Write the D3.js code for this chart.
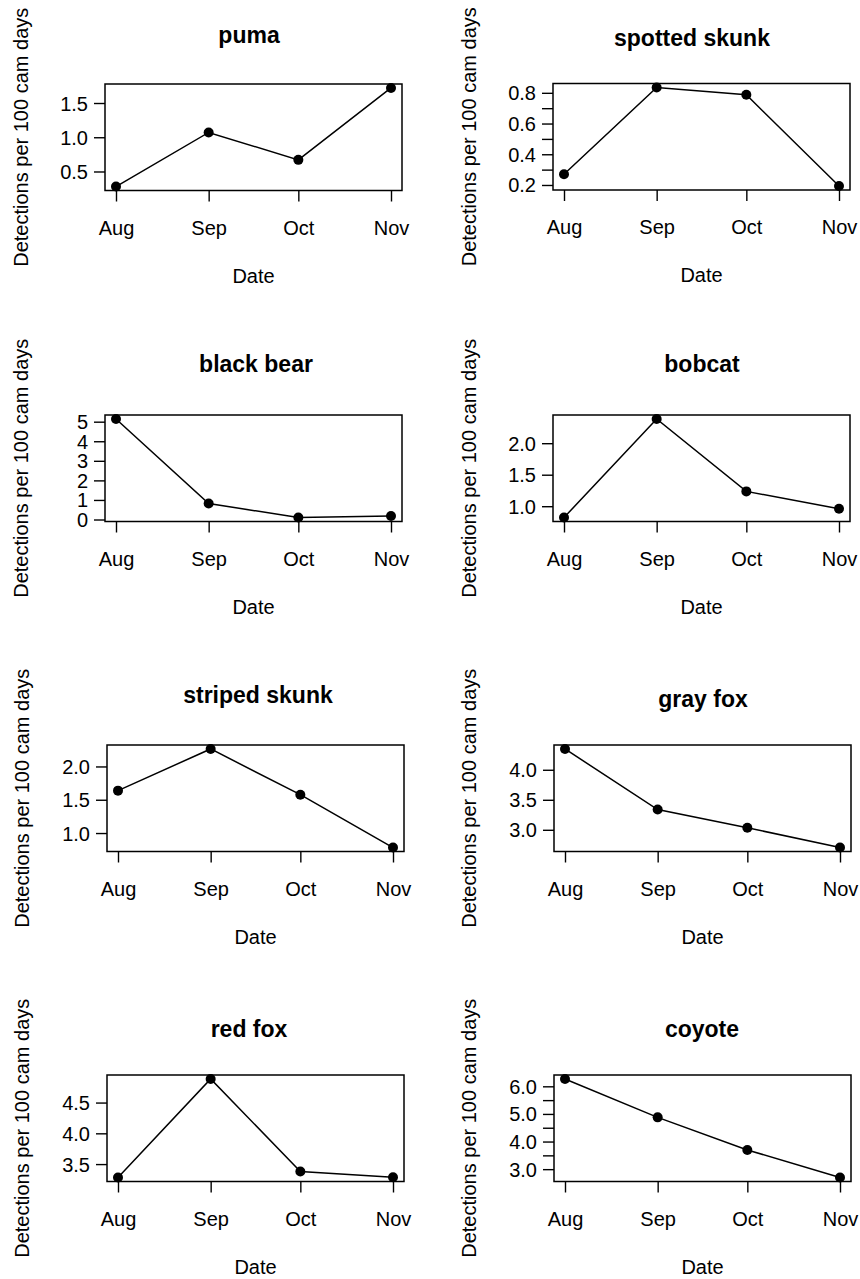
<!DOCTYPE html>
<html>
<head>
<meta charset="utf-8">
<script src="https://cdn.jsdelivr.net/npm/d3@7"></script>
<style>
  html, body { margin: 0; padding: 0; background: #fff; }
  svg { display: block; }
  text { font-family: "Liberation Sans", Arial, Helvetica, sans-serif; fill: #000; }
</style>
</head>
<body>
<svg id="chart" width="860" height="1279"></svg>
<script>
// Monthly detection rates (detections per 100 camera days), Aug–Nov
const months = ["Aug", "Sep", "Oct", "Nov"];
const monthStarts = ["2023-08-01", "2023-09-01", "2023-10-01", "2023-11-01"];

const species = ["puma", "spotted skunk", "black bear", "bobcat",
                 "striped skunk", "gray fox", "red fox", "coyote"];

const puma         = [0.28, 1.07, 0.67, 1.72];
const spottedSkunk = [0.27, 0.835, 0.787, 0.193];
const blackBear    = [5.14, 0.82, 0.10, 0.18];
const bobcat       = [0.82, 2.385, 1.235, 0.96];
const stripedSkunk = [1.637, 2.263, 1.576, 0.782];
const grayFox      = [4.347, 3.337, 3.034, 2.704];
const redFox       = [3.281, 4.884, 3.38, 3.286];
const coyote       = [6.267, 4.876, 3.696, 2.696];

// y-axis tick positions and their printed labels ("" = tick without label)
const pumaTicks   = [0.5, 1.0, 1.5];
const pumaLabels  = ["0.5", "1.0", "1.5"];
const spottedTicks  = [0.2, 0.3, 0.4, 0.5, 0.6, 0.7, 0.8];
const spottedLabels = ["0.2", "", "0.4", "", "0.6", "", "0.8"];
const bearTicks   = [0, 1, 2, 3, 4, 5];
const bearLabels  = ["0", "1", "2", "3", "4", "5"];
const bobcatTicks  = [1.0, 1.5, 2.0];
const bobcatLabels = ["1.0", "1.5", "2.0"];
const stripedTicks  = [1.0, 1.5, 2.0];
const stripedLabels = ["1.0", "1.5", "2.0"];
const grayTicks   = [3.0, 3.5, 4.0];
const grayLabels  = ["3.0", "3.5", "4.0"];
const redTicks    = [3.5, 4.0, 4.5];
const redLabels   = ["3.5", "4.0", "4.5"];
const coyoteTicks  = [3.0, 3.5, 4.0, 4.5, 5.0, 5.5, 6.0];
const coyoteLabels = ["3.0", "", "4.0", "", "5.0", "", "6.0"];

const seriesValues = [puma, spottedSkunk, blackBear, bobcat, stripedSkunk, grayFox, redFox, coyote];
const seriesTicks  = [pumaTicks, spottedTicks, bearTicks, bobcatTicks, stripedTicks, grayTicks, redTicks, coyoteTicks];
const seriesLabels = [pumaLabels, spottedLabels, bearLabels, bobcatLabels, stripedLabels, grayLabels, redLabels, coyoteLabels];

const xLabel = "Date";
const yLabel = "Detections per 100 cam days";

// ---- panel layout (4 rows x 2 columns) ----
const panelLeft  = [105, 553, 105, 553, 107, 554, 107, 554];
const panelTop   = [84, 83.5, 415, 415, 745, 745, 1075, 1075];
const panelW = 297;
const panelH = 106.5;
const titlePos = [[249, 43], [692, 46], [256, 372], [702, 372],
                  [258, 703], [703, 707], [249, 1037], [702, 1037]];
const yTitleX = [27.5, 475.5, 27.5, 475.5, 29, 476, 29, 476];
const tickLen = 11;

const parseDate = d3.timeParse("%Y-%m-%d");
const dates = monthStarts.map(parseDate);

const svg = d3.select("#chart");

// R-style 4% padding on each side of the data range
function padded(ext) {
  const pad = (ext[1] - ext[0]) * 0.04;
  return [ext[0] - pad, ext[1] + pad];
}

const dateExt = d3.extent(dates).map(d => +d);
const xDomain = padded(dateExt).map(t => new Date(t));

species.forEach((name, i) => {
  const left = panelLeft[i], top = panelTop[i];
  const vals = seriesValues[i];

  const x = d3.scaleTime().domain(xDomain).range([left, left + panelW]);
  const y = d3.scaleLinear().domain(padded(d3.extent(vals))).range([top + panelH, top]);

  const g = svg.append("g").attr("class", "panel");

  // x axis: ticks at month starts, labels below
  const xAxis = d3.axisBottom(x)
    .tickValues(dates)
    .tickFormat((d, k) => months[k])
    .tickSize(tickLen)
    .tickPadding(15);
  const gx = g.append("g")
    .attr("transform", `translate(0,${top + panelH})`)
    .call(xAxis);
  gx.select(".domain").remove();
  gx.selectAll(".tick line").attr("stroke", "#000").attr("stroke-width", 1.4);
  gx.selectAll(".tick text")
    .attr("font-size", 20)
    .attr("dy", null)
    .attr("y", 44)
    .style("font-family", '"Liberation Sans", Arial, sans-serif')
    .attr("fill", "#000");

  // y axis
  const labels = seriesLabels[i];
  const yAxis = d3.axisLeft(y)
    .tickValues(seriesTicks[i])
    .tickFormat((d, k) => labels[k])
    .tickSize(tickLen)
    .tickPadding(6);
  const gy = g.append("g")
    .attr("transform", `translate(${left},0)`)
    .call(yAxis);
  gy.select(".domain").remove();
  gy.selectAll(".tick line").attr("stroke", "#000").attr("stroke-width", 1.4);
  gy.selectAll(".tick text")
    .attr("font-size", 20)
    .attr("x", -17)
    .attr("dy", "0.35em")
    .style("font-family", '"Liberation Sans", Arial, sans-serif')
    .attr("fill", "#000");

  // plot frame
  g.append("rect")
    .attr("x", left).attr("y", top)
    .attr("width", panelW).attr("height", panelH)
    .attr("fill", "none")
    .attr("stroke", "#000")
    .attr("stroke-width", 1.5);

  // series line and points
  const pts = dates.map((d, k) => [d, vals[k]]);
  g.append("path")
    .datum(pts)
    .attr("fill", "none")
    .attr("stroke", "#000")
    .attr("stroke-width", 1.5)
    .attr("d", d3.line().x(p => x(p[0])).y(p => y(p[1])));
  g.selectAll("circle.pt")
    .data(pts)
    .join("circle")
    .attr("class", "pt")
    .attr("cx", p => x(p[0]))
    .attr("cy", p => y(p[1]))
    .attr("r", 5)
    .attr("fill", "#000");

  // panel title
  g.append("text")
    .attr("x", titlePos[i][0])
    .attr("y", titlePos[i][1])
    .attr("text-anchor", "middle")
    .attr("font-size", 23)
    .attr("font-weight", "bold")
    .text(name);

  // axis titles
  g.append("text")
    .attr("x", left + panelW / 2)
    .attr("y", top + panelH + 92)
    .attr("text-anchor", "middle")
    .attr("font-size", 20)
    .text(xLabel);

  const cy = top + panelH / 2;
  g.append("text")
    .attr("transform", `translate(${yTitleX[i]},${cy}) rotate(-90)`)
    .attr("text-anchor", "middle")
    .attr("font-size", 20)
    .text(yLabel);
});
</script>
</body>
</html>
